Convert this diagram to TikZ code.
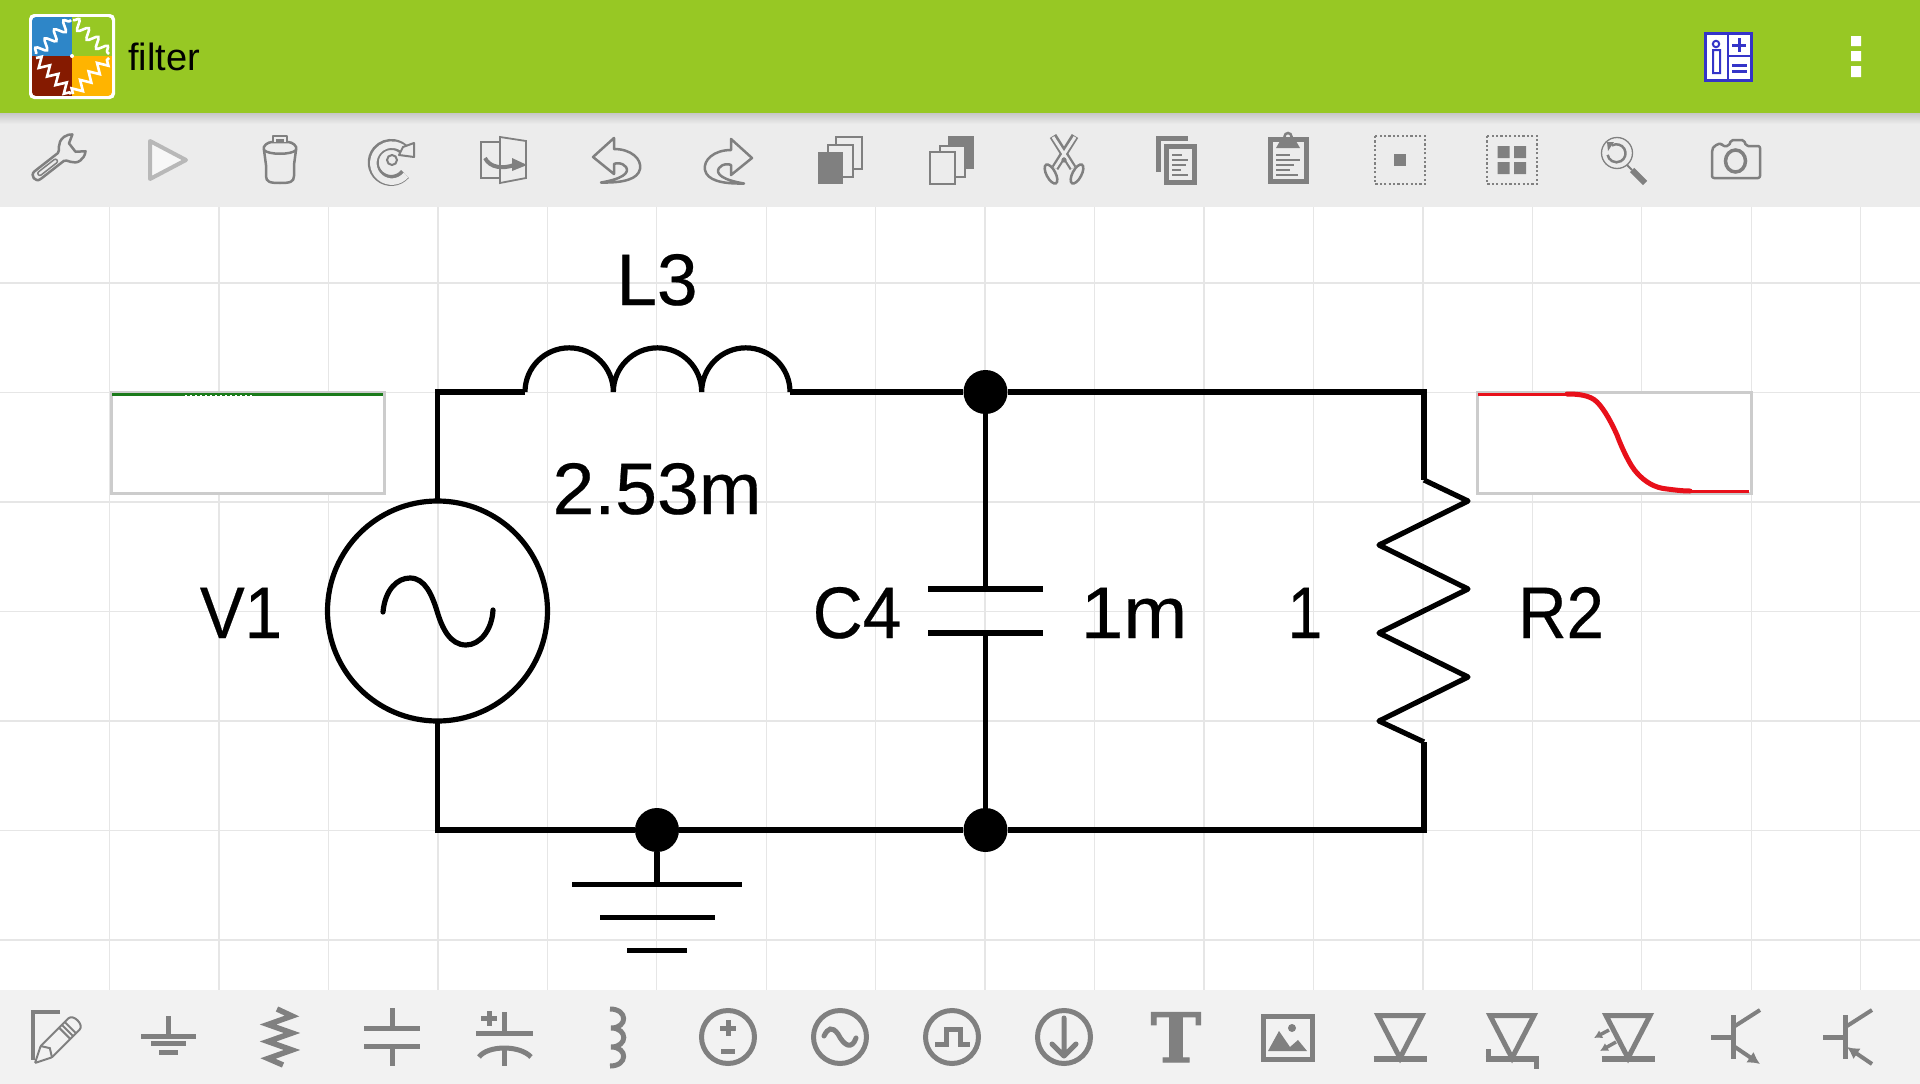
\documentclass[tikz,border=0pt]{standalone}
\usepackage{fontspec}
\setmainfont{Liberation Sans}
\newfontfamily\labfont[FakeBold=0.35]{Liberation Sans}
\newfontfamily\slabfont[UprightFont=* Bold,FakeBold=1.5]{DejaVu Serif}
\usetikzlibrary{decorations.pathmorphing,arrows.meta,shadings}
\definecolor{barGreen}{HTML}{97C824}
\definecolor{topBg}{HTML}{ECECEC}
\definecolor{botBg}{HTML}{F2F2F2}
\definecolor{gridC}{HTML}{E6E6E6}
\definecolor{iconC}{HTML}{808080}
\definecolor{infoBlue}{HTML}{3434C8}
\definecolor{frameC}{HTML}{CCCCCC}
\definecolor{logoBlue}{HTML}{2E86C8}
\definecolor{logoRed}{HTML}{851A00}
\definecolor{logoAmber}{HTML}{FFB400}
\definecolor{traceGreen}{HTML}{1A7A1A}
\definecolor{traceRed}{HTML}{E8101A}
\tikzset{
  wire/.style={line width=5.2pt,black,line join=miter},
  dotnode/.style={circle,fill=black,inner sep=0pt,minimum size=44pt},
  lab/.style={font=\labfont\fontsize{73}{73}\selectfont,anchor=base,inner sep=0pt,transform shape},
  ic/.style={draw=iconC,line width=2.5pt,line join=round},
  icb/.style={draw=iconC,line width=5pt},
  gridline/.style={gridC,line width=1.3pt},
  scopebox/.style={draw=frameC,line width=3pt,fill=white,outer sep=0pt}
}
\begin{document}
\begin{tikzpicture}[x=1pt,y=-1pt]
\useasboundingbox (0,0) rectangle (1920,1084);
\fill[white] (0,0) rectangle (1920,1084);
% grid
\foreach \k in {0,...,16}{\draw[gridline] ({109.5+109.45*\k},207) -- ({109.5+109.45*\k},990);}
\foreach \yy in {283,392.5,502,611.5,721,830.5,940}{\draw[gridline] (0,\yy) -- (1920,\yy);}
% bars
\fill[topBg] (0,113) rectangle (1920,207);
\shade[top color=black!22,bottom color=topBg] (0,113) rectangle (1920,124);
\fill[barGreen] (0,0) rectangle (1920,113);
\fill[botBg] (0,990) rectangle (1920,1084);
% logo
\fill[white,rounded corners=5pt] (29,14) rectangle (115,99);
\begin{scope}
\clip[rounded corners=4pt] (32,17) rectangle (112,96);
\fill[logoBlue] (32,17) rectangle (72,56);
\fill[barGreen] (72,17) rectangle (112,56);
\fill[logoRed] (32,56) rectangle (72,96);
\fill[logoAmber] (72,56) rectangle (112,96);
\end{scope}
\node[font=\fontsize{38}{38}\selectfont,anchor=base west,inner sep=0pt] (title) at (128,70) {filter};
% info icon
\draw[infoBlue,line width=3pt,fill=white] (1705,33) rectangle (1751,80);
\draw[infoBlue,line width=2.5pt] (1728,33)--(1728,80) (1728,56)--(1751,56);
\draw[infoBlue,line width=2pt] (1716,44) circle[radius=3.2pt] (1713,50) rectangle (1720,73);
\draw[infoBlue,line width=3pt] (1732,45)--(1746,45) (1739,38)--(1739,52) (1732,65)--(1747,65) (1732,71)--(1747,71);
\fill[white] (1851,36) rectangle (1861,46) (1851,51) rectangle (1861,61) (1851,66) rectangle (1861,77);
% ===== top toolbar =====
% wrench
\begin{scope}[shift={(57,160)},rotate=38,scale=0.82]
\draw[ic,fill=topBg] (-30,-6)--(6,-6)..controls(10,-6)and(12,-17)..(24,-17)..controls(28,-17)and(32,-15)..(34,-13)--(24,-7)--(24,6)--(34,13)..controls(30,17)and(26,18)..(22,18)..controls(12,18)and(10,6)..(6,6)--(-30,6)..controls(-38,6)and(-38,-6)..(-30,-6)--cycle;
\draw[iconC,line width=1.5pt,rounded corners=2pt] (-29,-2.5) rectangle (0,2.5);
\end{scope}
% play
\draw[draw=black!28,line width=4pt,fill=black!3,line join=round] (150,141)--(186,160)--(150,179)--cycle;
% trash
\draw[ic,fill=topBg] (266,165)--(266,176)..controls(266,182)and(270,183)..(280,183)..controls(290,183)and(294,182)..(294,176)--(294,165)--(296,150)--(264,150)--cycle;
\draw[ic,fill=topBg] (264,150) ..controls(262,146)and(268,142)..(272,142)--(288,142)..controls(292,142)and(298,146)..(296,150)..controls(292,155)and(268,155)..(264,150)--cycle;
\draw[ic,fill=topBg] (273,142) -- (273,136) -- (287,136) -- (287,142);
\fill[iconC] (276,139) rectangle (284,142);
% refresh
\draw[iconC,line width=11pt] (405,174) arc[start angle=-40,end angle=-320,radius=18pt];
\draw[topBg,line width=6.5pt] (406,175) arc[start angle=-40,end angle=-325,radius=18.5pt];
\draw[iconC,line width=2pt,fill=topBg,line join=round] (403,147) -- (414,143) -- (414,157) -- (399,155) -- cycle;
\draw[iconC,line width=2pt] (392,160) circle[radius=5pt];
% flip
\draw[iconC,line width=1.8pt] (500,142)--(481,142)--(481,178)--(500,178) (500,137)--(526,141)--(526,178)--(500,183)--cycle;
\draw[iconC,line width=4pt] (485,158)..controls(490,168)and(503,169)..(514,165);
\fill[iconC] (512,158)--(527,165)--(512,171)--cycle;
% undo / redo
\begin{scope}[shift={(616,159)}]
\draw[ic,fill=topBg] (-23,-2)--(-2,-21)--(-2,-10)..controls(15,-10)and(26,0)..(24,10)..controls(22,20)and(8,24)..(-15,23.5)..controls(6,20)and(14,14)..(10,8)..controls(6,3)and(0,4)..(-2,5)--(-2,15)--cycle;
\end{scope}
\begin{scope}[shift={(729,160)},xscale=-1]
\draw[ic,fill=topBg] (-23,-2)--(-2,-21)--(-2,-10)..controls(15,-10)and(26,0)..(24,10)..controls(22,20)and(8,24)..(-15,23.5)..controls(6,20)and(14,14)..(10,8)..controls(6,3)and(0,4)..(-2,5)--(-2,15)--cycle;
\end{scope}
% stacks
\draw[iconC,line width=1.8pt,fill=topBg] (836,137) rectangle (862,169);
\draw[iconC,line width=1.8pt,fill=topBg] (828,145) rectangle (853,177);
\fill[iconC] (817.5,152) rectangle (843,184);
\fill[iconC] (948,136) rectangle (974,169);
\draw[iconC,line width=1.8pt,fill=topBg] (940,146) rectangle (965,177);
\draw[iconC,line width=1.8pt,fill=topBg] (930,152) rectangle (955,184);
% scissors
\draw[iconC,line width=7.5pt] (1053,136)--(1073,168);
\draw[iconC,line width=7.5pt] (1075,136)--(1055,168);
\draw[topBg,line width=3pt] (1053,137)--(1073,168) (1075,137)--(1055,168);
\draw[iconC,line width=2.5pt,fill=topBg,rotate around={28:(1051,174)}] (1051,174) ellipse[x radius=4.5pt,y radius=10.5pt];
\draw[iconC,line width=2.5pt,fill=topBg,rotate around={-28:(1077,174)}] (1077,174) ellipse[x radius=4.5pt,y radius=10.5pt];
\fill[iconC] (1064,160) circle[radius=2.6pt];
% paste-doc
\draw[iconC,line width=5pt] (1158,172)--(1158,138.5)--(1188,138.5);
\draw[iconC,line width=5pt,fill=topBg] (1166,146) rectangle (1194,182);
\draw[iconC,line width=2.5pt] (1172,155)--(1182,155) (1172,160)--(1188,160) (1172,165)--(1186,165) (1172,170)--(1181,170) (1172,175)--(1188,175);
% clipboard
\draw[iconC,line width=5pt,fill=topBg] (1270,139) rectangle (1306,181);
\fill[iconC] (1276,148)--(1300,148)--(1296,141)--(1280,141)--cycle;
\draw[iconC,line width=2.5pt] (1288,136.5) circle[radius=3.5pt];
\draw[iconC,line width=2.5pt] (1276,155)--(1290,155) (1276,160)--(1300,160) (1276,165)--(1294,165) (1276,170)--(1290,170) (1276,175)--(1298,175);
% selection
\draw[iconC,line width=2.2pt,dash pattern=on 2.2pt off 2.2pt] (1375,136) rectangle (1425,184);
\fill[iconC] (1393.5,154) rectangle (1406,166);
\draw[iconC,line width=2.2pt,dash pattern=on 2.2pt off 2.2pt] (1487,136) rectangle (1537,184);
\fill[iconC] (1497.5,146) rectangle (1509.5,158) (1514,146) rectangle (1526,158) (1497.5,162) rectangle (1509.5,174) (1514,162) rectangle (1526,174);
% magnifier
\draw[iconC,line width=1.3pt] (1617,153) circle[radius=15.5pt];
\draw[iconC,line width=2.5pt] (1612,145.5) arc[start angle=120,end angle=-170,radius=9pt];
\fill[iconC] (1607,142)--(1614,142)--(1608,151)--cycle;
\draw[iconC,line width=2pt] (1627,165)--(1632,170);
\draw[iconC,line width=6pt] (1632,170)--(1645,183);
% camera
\draw[ic,fill=topBg,rounded corners=2pt] (1712,178)--(1760,178)--(1760,146)--(1746,146)--(1744,140)--(1731,140)--(1729,146)--(1722,146)--(1721,143)--(1714,146)--(1712,150)--cycle;
\draw[iconC,line width=3.5pt,fill=topBg] (1735.5,161) ellipse[x radius=10pt,y radius=11pt];
% ===== bottom toolbar =====
% pencil
\draw[iconC,line width=4pt] (60,1012)--(33,1012)--(33,1060);
\begin{scope}[shift={(35,1063)},rotate=45]
\draw[iconC,line width=2pt,fill=botBg,rounded corners=1pt] (0,0)--(16,-8)--(54,-8)..controls(62,-8)and(62,8)..(54,8)--(16,8)--cycle;
\draw[iconC,line width=2pt] (16,-8)--(21,0)--(16,8) (42,-8)--(42,8) (46,-8)--(46,8) (50,-8)--(50,8);
\end{scope}
% ground
\draw[icb] (168,1016)--(168,1036) (141,1036)--(196,1036) (151,1043.5)--(186,1043.5);
\draw[icb] (159,1052)--(178,1052);
% resistor
\draw[icb,line width=5.5pt,line join=miter] (277,1009)--(292,1016)--(268,1024.5)--(292,1033)--(268,1041.5)--(292,1050)--(268,1058.5)--(283,1065);
% capacitor
\draw[icb] (392,1008)--(392,1028) (364,1028)--(420,1028) (364,1046)--(420,1046) (392,1046)--(392,1066);
% polar cap
\draw[icb] (504,1012)--(504,1033) (476,1033)--(533,1033) (481,1018)--(497,1018) (489,1011)--(489,1026) (504,1047)--(504,1066);
\draw[icb] (479,1057)..controls(488,1045)and(520,1045)..(531,1057);
% inductor
\draw[icb] (610,1009)..controls(628,1009)and(628,1028)..(611,1028)..controls(628,1028)and(628,1047)..(611,1047)..controls(628,1047)and(628,1066)..(610,1066);
% sources
\foreach \cx in {728,840,952,1064}{\draw[iconC,line width=5pt] (\cx,1037) circle[radius=26.5pt];}
\draw[icb] (720,1028)--(736,1028) (728,1020)--(728,1036);
\draw[icb] (721,1051)--(735,1051);
\draw[icb,line cap=round] (824,1036)..controls(828,1028)and(832,1026)..(838,1034)..controls(844,1046)and(852,1050)..(856,1038);
\draw[icb,line join=miter] (935,1044)--(946,1044)--(946,1029)--(960,1029)--(960,1044)--(970,1044);
\draw[icb,line cap=round,line join=round] (1064,1018)--(1064,1055) (1052,1044)--(1064,1056)--(1076,1044);
% T
\node[font=\slabfont\fontsize{68}{68}\selectfont,text=iconC,anchor=base,inner sep=0pt] (tIcon) at (1176,1062) {T};
% image
\draw[icb] (1263.5,1016.5) rectangle (1312.5,1059);
\fill[iconC] (1292,1028) circle[radius=4pt];
\fill[iconC] (1268,1051)--(1279,1031)--(1290,1047)--(1298,1040)--(1307,1051)--cycle;
% diodes
\foreach \cx in {1400,1512,1628}{
  \draw[iconC,line width=5pt,line join=miter] ({\cx-22},1015.5)--({\cx+22},1015.5)--(\cx,1058)--cycle;
  \draw[iconC,line width=5.5pt] ({\cx-26.5},1059)--({\cx+26.5},1059);
}
\draw[iconC,line width=5pt] (1488.5,1049)--(1488.5,1059) (1536,1059)--(1536,1069);
\draw[iconC,line width=3.5pt,-{Latex[length=8pt,width=9pt]}] (1609,1030)--(1594,1038);
\draw[iconC,line width=3.5pt,-{Latex[length=8pt,width=9pt]}] (1616,1042)--(1600,1051);
% transistors
\draw[icb] (1733,1015)--(1733,1059) (1711,1037)--(1733,1037);
\draw[iconC,line width=4pt] (1735,1026)--(1760,1010);
\draw[iconC,line width=4pt,-{Latex[length=12pt,width=13pt]}] (1735,1047)--(1760,1064);
\draw[icb] (1845,1015)--(1845,1059) (1823,1037)--(1845,1037);
\draw[iconC,line width=4pt] (1847,1026)--(1872,1010);
\draw[iconC,line width=4pt,{Latex[length=12pt,width=13pt]}-] (1847,1047)--(1872,1064);
% ===== scope windows =====
\node[scopebox,anchor=north west,inner sep=0pt,minimum width=273pt,minimum height=101pt] (scopeIn) at (111,392) {};
\node[scopebox,anchor=north west,inner sep=0pt,minimum width=274pt,minimum height=101pt] (scopeOut) at (1477,392) {};
\draw[traceGreen,line width=3pt] (112,394)--(383,394);
\draw[white,line width=1pt,dash pattern=on 2pt off 3pt] (185,395.5)--(253,395.5);
\draw[traceRed,line width=3pt] (1478,394)--(1567,394);
\draw[traceRed,line width=5pt,line cap=round] (1567,394)..controls(1578,394)and(1590,395)..(1597,402)..controls(1605,410)and(1612,424)..(1617,435)..controls(1621,446)and(1630,466)..(1637,473)..controls(1645,482)and(1655,488)..(1667,489)..controls(1675,490)and(1682,491)..(1690,491);
\draw[traceRed,line width=3pt] (1690,491)--(1749,491);
% ===== circuit =====
\node[circle,draw,line width=5.2pt,inner sep=0pt,minimum size=220pt,outer sep=0pt] (srcV) at (437.5,611) {};
\node[dotnode] (nTop) at (985.5,392) {};
\node[dotnode] (nBot) at (985.5,830) {};
\node[dotnode] (nGnd) at (657,830) {};
\coordinate (indL) at (525,392);
\coordinate (indR) at (790,392);
\coordinate (resT) at (1424,480);
\coordinate (resB) at (1424,742);
\coordinate (capA) at (985.5,589);
\coordinate (capB) at (985.5,633);
\coordinate (gndA) at (657,884);
\draw[wire] (srcV.north) |- (indL);
\draw[wire] (indL) arc[start angle=180,end angle=0,radius=44.17pt] arc[start angle=180,end angle=0,radius=44.17pt] arc[start angle=180,end angle=0,radius=44.17pt];
\draw[wire] (indR) -- (nTop);
\draw[wire] (nTop) -| (resT);
\draw[wire,line join=round] (resT)--(1468,501)--(1379,545)--(1468,589)--(1379,633)--(1468,677)--(1379,721)--(resB);
\draw[wire] (resB) |- (nBot);
\draw[wire] (nTop) -- (capA);
\draw[wire] (capB) -- (nBot);
\draw[wire] (928,589)--(1043,589) (928,633)--(1043,633);
\draw[wire] (srcV.south) |- (nGnd);
\draw[wire] (nGnd) -- (nBot);
\draw[wire] (nGnd) -- (gndA);
\draw[wire] (572,884.5)--(742,884.5) (600,917.5)--(715,917.5) (627,950.5)--(687,950.5);
\draw[line width=5.2pt,line cap=round] (383,612)..controls(385,590)and(397,578)..(410,578)..controls(425,578)and(432,595)..(437,611)..controls(442,628)and(450,645)..(466,645)..controls(480,645)and(492,630)..(493,610);
% labels
\node[lab] (lblL) at (657,305) {L3};
\node[lab,xscale=1.03] (lblLv) at (657,514) {2.53m};
\node[lab,xscale=0.92] (lblV) at (241,638) {V1};
\node[lab,xscale=0.95] (lblC) at (857,638) {C4};
\node[lab,xscale=1.05] (lblCv) at (1134,638) {1m};
\node[lab,xscale=0.85] (lblRv) at (1305,638) {1};
\node[lab,xscale=0.92] (lblR) at (1561,638) {R2};
% logo wiggles
\draw[white,line width=2.6pt,decorate,decoration={snake,amplitude=5pt,segment length=13pt}] (36,54)--(71,20);
\draw[white,line width=2.6pt,decorate,decoration={snake,amplitude=5pt,segment length=13pt}] (73,20)--(109,54);
\draw[white,line width=2.6pt,decorate,decoration={zigzag,amplitude=5pt,segment length=12pt}] (36,58)--(71,94);
\draw[white,line width=2.6pt,decorate,decoration={zigzag,amplitude=5pt,segment length=12pt}] (73,94)--(109,58);
\fill[white] (72,56) circle[radius=2pt];
\end{tikzpicture}
\end{document}
